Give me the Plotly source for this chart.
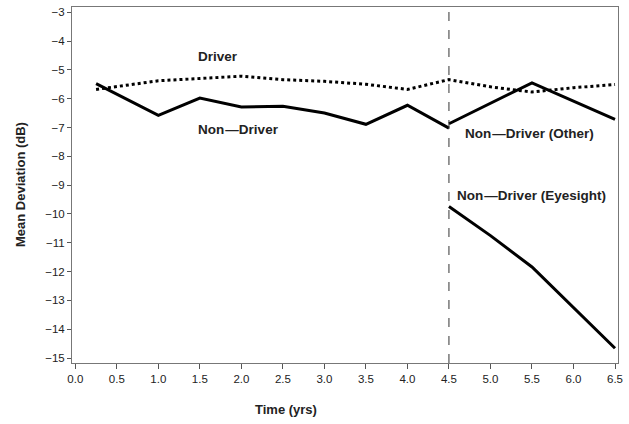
import plotly.graph_objects as go

driver_x = [0.25, 1.0, 1.5, 2.0, 2.5, 3.0, 3.5, 4.0, 4.5, 5.0, 5.5, 6.0, 6.5]
driver_y = [-5.68, -5.38, -5.30, -5.22, -5.34, -5.40, -5.50, -5.68, -5.34, -5.59, -5.77, -5.62, -5.51]

nondriver_x = [0.25, 1.0, 1.5, 2.0, 2.5, 3.0, 3.5, 4.0, 4.5]
nondriver_y = [-5.48, -6.58, -5.98, -6.29, -6.26, -6.50, -6.89, -6.23, -7.02]

other_x = [4.5, 5.5, 6.5]
other_y = [-6.87, -5.45, -6.72]

eyesight_x = [4.5, 5.0, 5.5, 6.0, 6.5]
eyesight_y = [-9.74, -10.75, -11.84, -13.25, -14.66]

labels = ["Driver", "Non\u200a\u2014Driver", "Non\u200a\u2014Driver (Other)", "Non\u200a\u2014Driver (Eyesight)"]
label_x = [1.72, 1.96, 5.47, 5.49]
label_y = [-4.55, -7.07, -7.21, -9.35]

x_ticks = [i * 0.5 for i in range(14)]
y_ticks = list(range(-15, -2))

fig = go.Figure()
fig.add_trace(go.Scatter(x=driver_x, y=driver_y, mode="lines",
                         line=dict(color="black", width=3, dash="dot")))
fig.add_trace(go.Scatter(x=nondriver_x, y=nondriver_y, mode="lines",
                         line=dict(color="black", width=3)))
fig.add_trace(go.Scatter(x=other_x, y=other_y, mode="lines",
                         line=dict(color="black", width=3)))
fig.add_trace(go.Scatter(x=eyesight_x, y=eyesight_y, mode="lines",
                         line=dict(color="black", width=3)))

fig.add_vline(x=4.5, line=dict(color="#333333", width=1, dash="dash"))

for t, x, y in zip(labels, label_x, label_y):
    fig.add_annotation(x=x, y=y, text="<b>%s</b>" % t, showarrow=False,
                       font=dict(size=13.5, color="#222222", family="Liberation Sans"))

fig.add_annotation(xref="paper", yref="paper", x=(286 - 72) / 546, y=-46 / 356,
                   xanchor="center", yanchor="middle",
                   text="<b>Time (yrs)</b>", showarrow=False,
                   font=dict(size=13, color="#222222", family="Liberation Sans"))
fig.add_annotation(xref="paper", yref="paper", x=-(72 - 20) / 546, y=0.5,
                   xanchor="center", yanchor="middle",
                   text="<b>Mean Deviation (dB)</b>", showarrow=False, textangle=-90,
                   font=dict(size=13, color="#222222", family="Liberation Sans"))

fig.update_layout(
    width=629, height=424,
    margin=dict(l=72, r=11, t=7, b=61),
    plot_bgcolor="white", paper_bgcolor="white",
    showlegend=False,
    font=dict(family="Liberation Sans", size=11.5, color="#222222"),
)
fig.update_xaxes(range=[-0.04, 6.536], tickvals=x_ticks,
                 ticktext=["%.1f" % v for v in x_ticks],
                 showgrid=False, zeroline=False, showline=True, mirror=True,
                 linecolor="#777777", linewidth=1, ticks="outside", ticklen=5,
                 tickcolor="#555555")
fig.update_yaxes(range=[-15.17, -2.82], tickvals=y_ticks,
                 showgrid=False, zeroline=False, showline=True, mirror=True,
                 linecolor="#777777", linewidth=1, ticks="outside", ticklen=4,
                 tickcolor="#555555")

fig.write_html("out.html", config={"displayModeBar": False},
               post_script="document.body.style.margin='0';")
